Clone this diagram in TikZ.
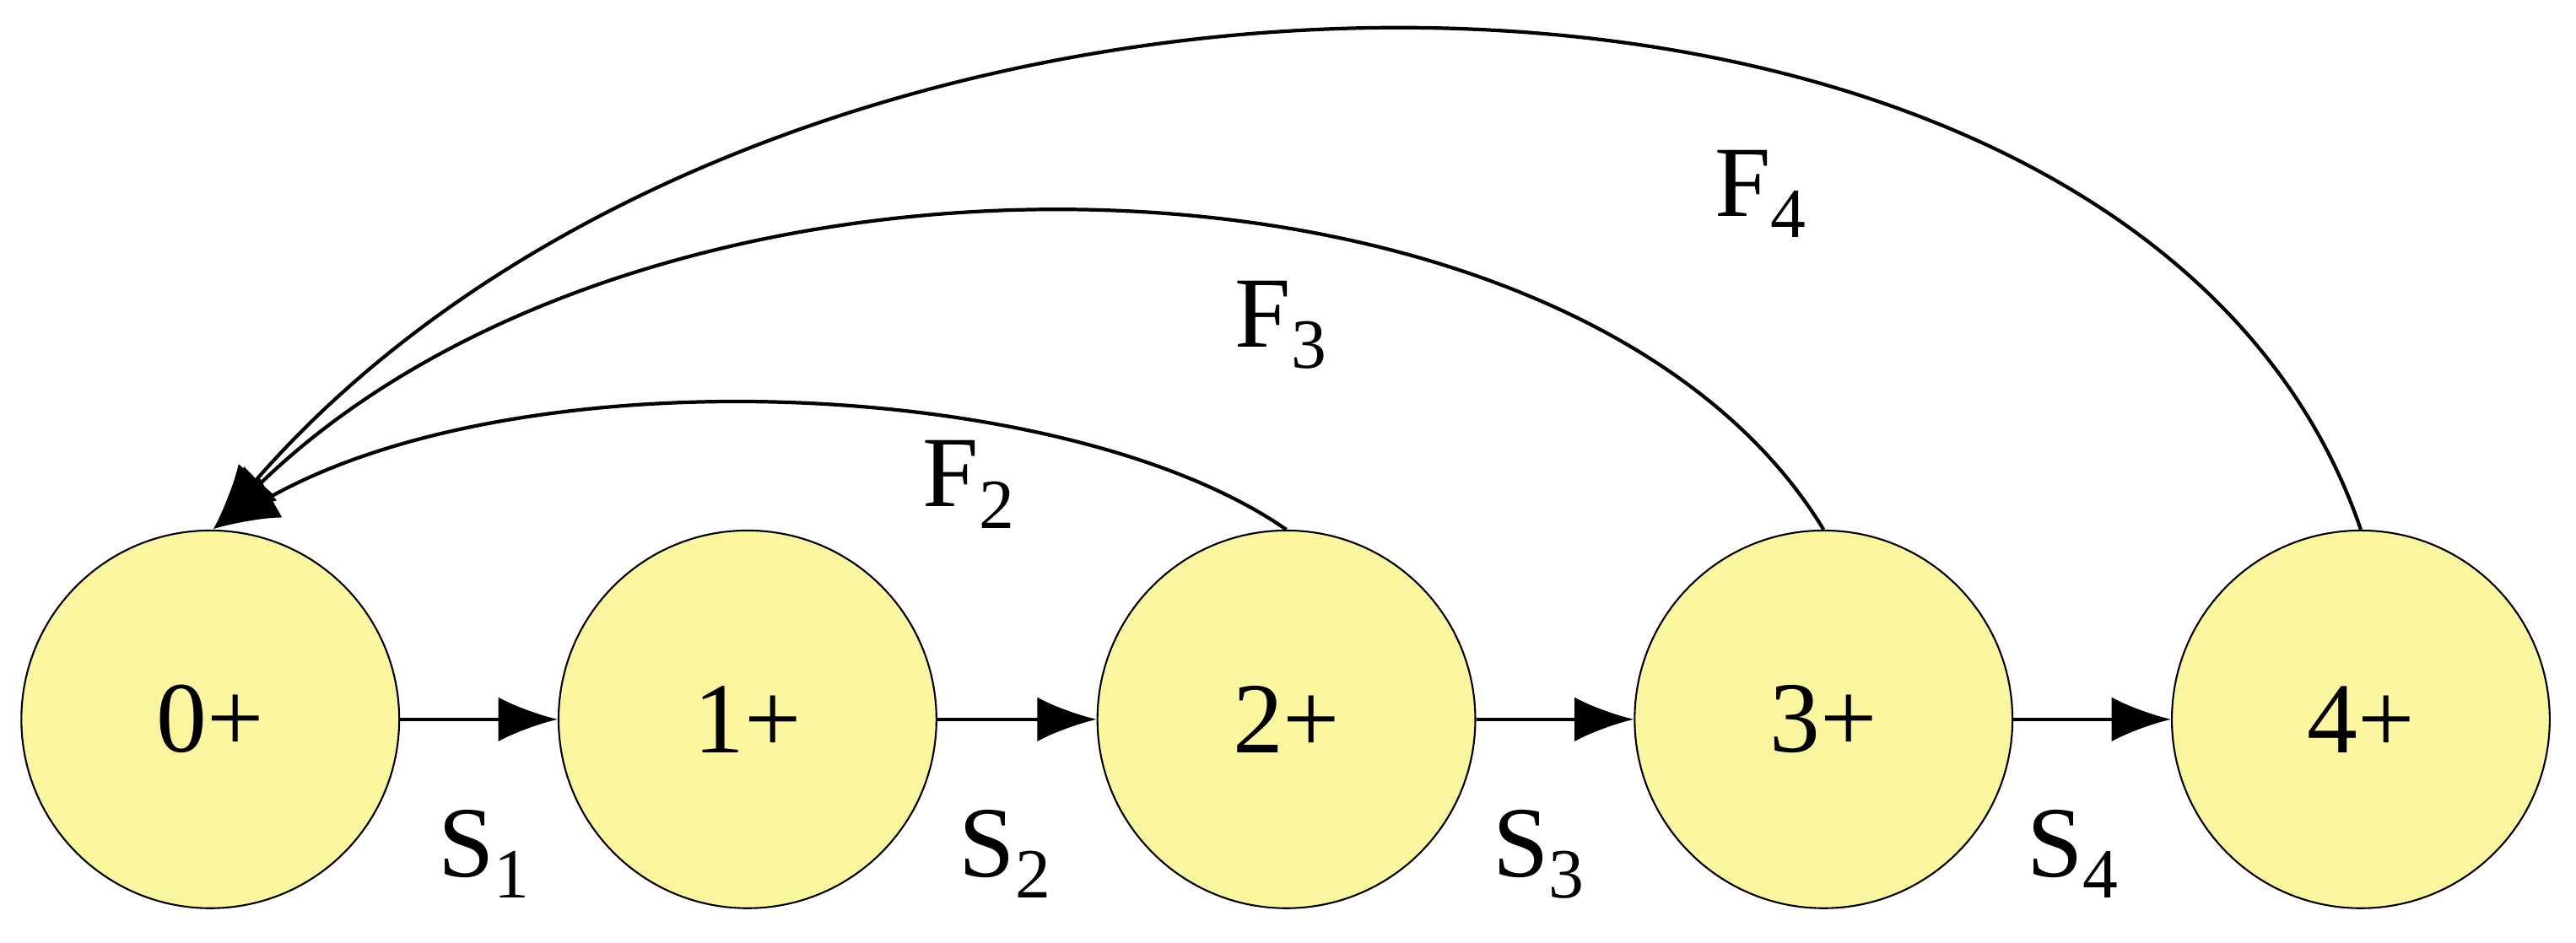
\documentclass[tikz,border=0pt]{standalone}
\usepackage{fontspec}
\setmainfont{Liberation Serif}
\usetikzlibrary{arrows.meta}
\definecolor{nodefill}{RGB}{250,246,160}
\begin{document}
\begin{tikzpicture}[x=0.01947cm,y=-0.01947cm,
  st/.style={circle,draw=black,line width=0.6pt,fill=nodefill,minimum size=230*0.01947cm,inner sep=0pt,font=\fontsize{34}{40}\selectfont},
  lab/.style={font=\fontsize{34}{40}\selectfont},
  arr/.style={line width=1.3pt,-{Latex[length=20pt,width=15pt]}},
  back/.style={line width=1.2pt,-{Latex[length=22pt,width=16pt]}}]
\useasboundingbox (0,0) rectangle (1568,573.7);
\node[st] (c0) at (128,438) {0+};
\node[st] (c1) at (455,438) {1+};
\node[st] (c2) at (783,438) {2+};
\node[st] (c3) at (1110,438) {3+};
\node[st] (c4) at (1437,438) {4+};
\draw[arr] (c0) -- (c1);
\draw[arr] (c1) -- (c2);
\draw[arr] (c2) -- (c3);
\draw[arr] (c3) -- (c4);
\node[lab] at (295,520) {S\textsubscript{1}};
\node[lab] at (612,520) {S\textsubscript{2}};
\node[lab] at (937,520) {S\textsubscript{3}};
\node[lab] at (1262,520) {S\textsubscript{4}};
\coordinate (tip) at (130,322);
\draw[back] (c2.north) .. controls (650,230) and (320,215) .. (tip);
\draw[back] (c3.north) .. controls (960,75) and (400,60) .. (tip);
\draw[back] (c4.north) .. controls (1300,-80) and (480,-80) .. (tip);
\node[lab] at (590,295) {F\textsubscript{2}};
\node[lab] at (780,198) {F\textsubscript{3}};
\node[lab] at (1072,118) {F\textsubscript{4}};
\end{tikzpicture}
\end{document}
